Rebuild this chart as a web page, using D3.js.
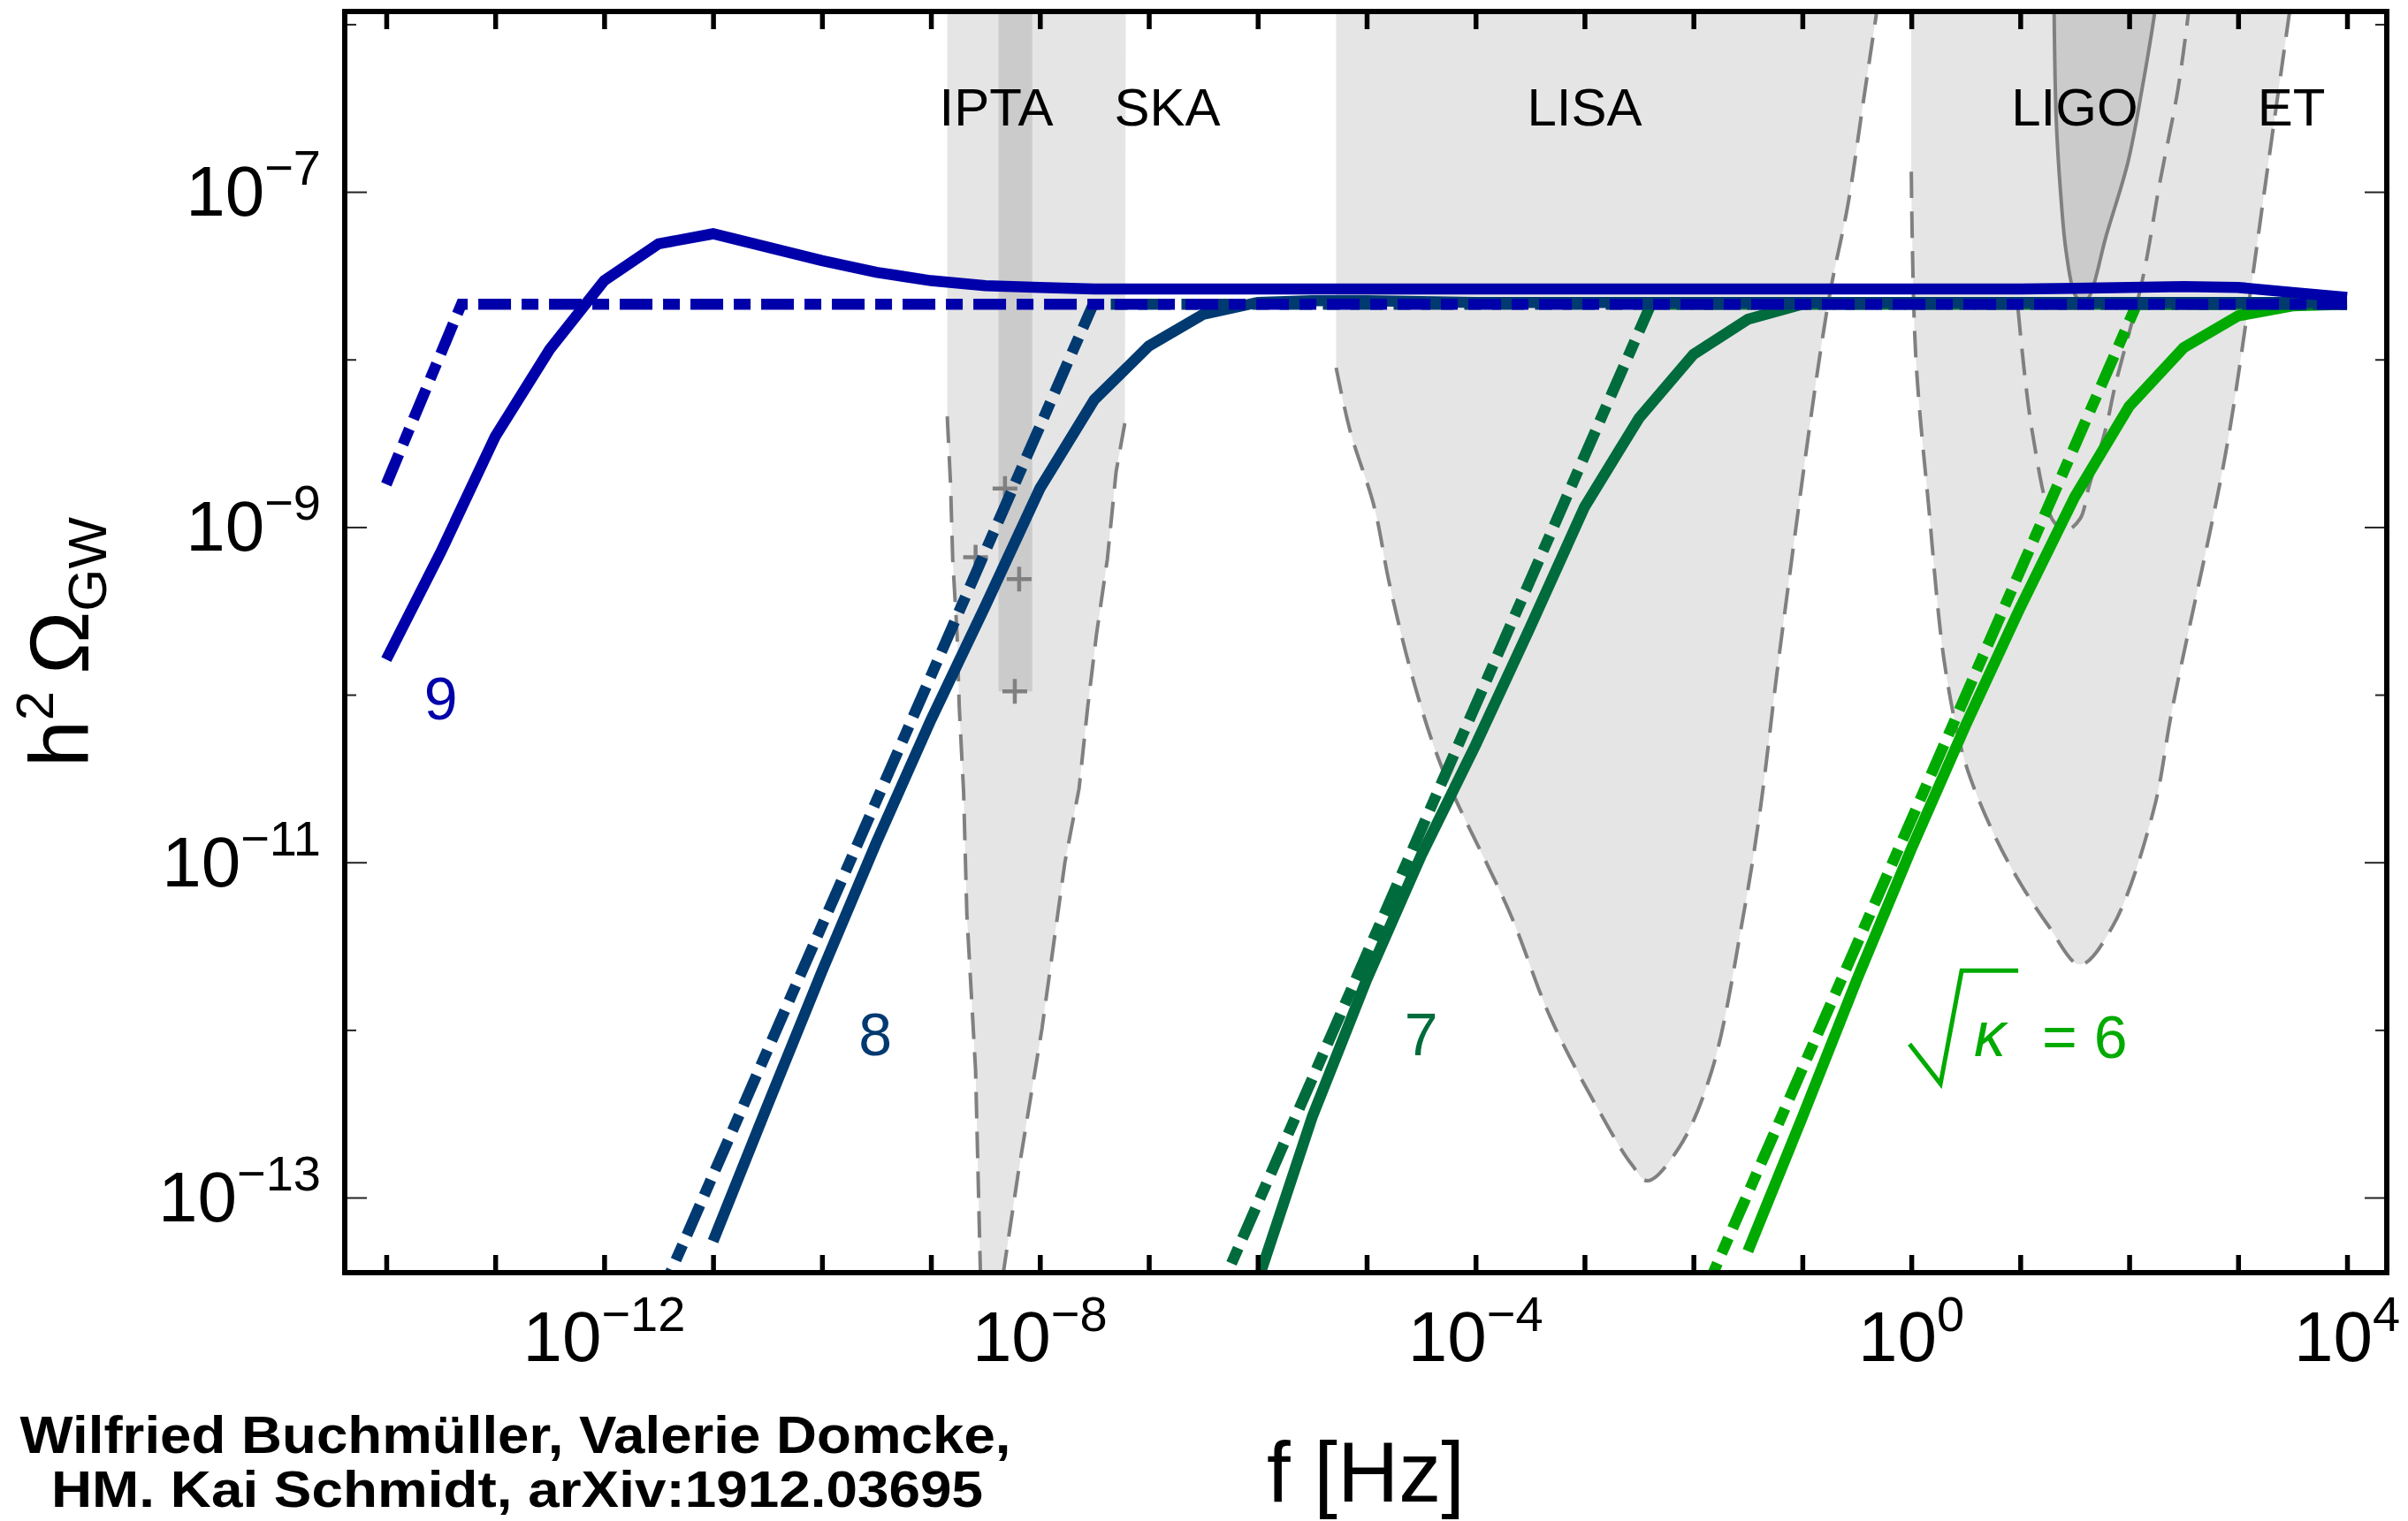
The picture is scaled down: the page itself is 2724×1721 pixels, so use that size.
<!DOCTYPE html>
<html><head><meta charset="utf-8">
<script src="https://cdn.jsdelivr.net/npm/d3@7"></script>
<style>
body{margin:0;background:#fff}
svg{display:block}
text{font-family:"Liberation Sans",Arial,Helvetica,sans-serif}
</style></head>
<body><svg id="chart" width="2724" height="1721"></svg>
<script>
// ---------- data (log10 f [Hz], log10 h^2 Omega_GW) ----------
const k9Solid = [[-14,-9.79],[-13.5,-9.15],[-13,-8.46],[-12.5,-7.94],[-12,-7.53],[-11.5,-7.31],[-11,-7.25],[-10.5,-7.33],[-10,-7.41],[-9.5,-7.48],[-9,-7.53],[-8.5,-7.56],[-8,-7.57],[-7.5,-7.58],[-7,-7.58],[-6,-7.58],[-5,-7.58],[-4,-7.58],[-3,-7.58],[-2,-7.58],[-1,-7.58],[0,-7.58],[1,-7.58],[1.5,-7.575],[2,-7.57],[2.5,-7.565],[3,-7.57],[3.5,-7.60],[4,-7.63]];
const k8Solid = [[-11,-13.26],[-10.5,-12.45],[-10,-11.65],[-9.5,-10.88],[-9,-10.15],[-8.5,-9.47],[-8,-8.77],[-7.5,-8.24],[-7,-7.92],[-6.5,-7.73],[-6,-7.66],[-5.5,-7.65],[-5,-7.65],[-4,-7.66],[-2,-7.66],[0,-7.66],[2,-7.66],[4,-7.66]];
const k7Solid = [[-6,-13.5],[-5.5,-12.52],[-5,-11.70],[-4.5,-10.96],[-4,-10.30],[-3.5,-9.60],[-3,-8.88],[-2.5,-8.35],[-2,-7.97],[-1.5,-7.76],[-1,-7.67],[-0.5,-7.66],[0,-7.66],[2,-7.66],[4,-7.66]];
const k6Solid = [[-1.5,-13.32],[-1,-12.52],[-0.5,-11.70],[0,-10.92],[0.5,-10.18],[1,-9.48],[1.5,-8.82],[2,-8.28],[2.5,-7.93],[3,-7.74],[3.5,-7.68],[4,-7.67]];
const k9Approx = [[-14,-8.745],[-13.31,-7.67],[4,-7.67]];
const k8Approx = [[-11.5,-13.61],[-7.51,-7.67],[4,-7.67]];
const k7Approx = [[-6.4,-13.63],[-2.39,-7.67],[4,-7.67]];
const k6Approx = [[-1.9,-13.57],[2.07,-7.67],[4,-7.67]];
const kappaNames = ["9","8","7","6"];
const kappaColors = ["#0000aa","#003a70","#006b3c","#00aa00"];

// detector sensitivity curves
const skaBand = [-8.85,-7.21];
const skaLeft = [[-8.85,-8.34],[-8.82,-8.74],[-8.80,-9.19],[-8.76,-9.64],[-8.74,-10.07],[-8.70,-10.58],[-8.67,-11.31],[-8.59,-12.24],[-8.54,-13.6]];
const skaRight = [[-7.22,-8.38],[-7.30,-8.67],[-7.38,-9.19],[-7.48,-9.64],[-7.56,-10.07],[-7.64,-10.56],[-7.77,-11.0],[-7.98,-11.99],[-8.20,-12.86],[-8.37,-13.6]];
const iptaBand = [-8.38,-8.07,-9.98];
const iptaPoints = [[-8.32,-8.77],[-8.59,-9.18],[-8.19,-9.31],[-8.23,-9.98]];
const lisaCurve = [[-5.28,-8.05],[-5.15,-8.43],[-4.93,-8.88],[-4.79,-9.34],[-4.56,-9.94],[-4.30,-10.45],[-3.68,-11.31],[-3.31,-11.93],[-2.86,-12.49],[-2.57,-12.80],[-2.42,-12.90],[-2.13,-12.70],[-1.83,-12.24],[-1.54,-11.31],[-1.39,-10.70],[-1.20,-9.70],[-0.77,-7.69],[-0.58,-7.07],[-0.44,-6.46],[-0.30,-5.85]];
const etCurve = [[0.00,-6.88],[0.04,-7.97],[0.16,-8.88],[0.30,-9.79],[0.45,-10.30],[0.59,-10.58],[0.89,-11.0],[1.26,-11.38],[1.55,-11.61],[1.85,-11.38],[2.22,-10.70],[2.40,-10.07],[2.88,-8.58],[3.09,-7.70],[3.26,-6.91],[3.45,-6.03],[3.50,-5.80]];
const ligoDesign = [[0.98,-7.70],[1.11,-8.43],[1.30,-8.96],[1.42,-9.02],[1.55,-8.95],[1.63,-8.76],[1.79,-8.40],[1.87,-8.16],[2.12,-7.53],[2.28,-6.95],[2.45,-6.38],[2.56,-5.85]];
const ligoO1 = [[1.31,-5.85],[1.33,-6.56],[1.37,-7.0],[1.42,-7.35],[1.50,-7.61],[1.57,-7.66],[1.63,-7.63],[1.79,-7.26],[1.99,-6.82],[2.12,-6.38],[2.23,-5.95],[2.25,-5.85]];
const detectorLabels = [["IPTA",-8.40],["SKA",-6.83],["LISA",-3.00],["LIGO",1.50],["ET",3.49]];

const xTickExps = [-14,-13,-12,-11,-10,-9,-8,-7,-6,-5,-4,-3,-2,-1,0,1,2,3,4];
const xLabelExps = ["-12","-8","-4","0","4"];
const yTickExps = [-13,-12,-11,-10,-9,-8,-7,-6];
const yLabelExps = ["-13","-11","-9","-7"];

// ---------- layout ----------
const P = {left:390, right:2700, top:13, bottom:1440};
const svg = d3.select("#chart");
const x = d3.scaleLog().domain([Math.pow(10,-14.381), Math.pow(10,4.365)]).range([P.left,P.right]);
const y = d3.scaleLog().domain([Math.pow(10,-13.448), Math.pow(10,-5.924)]).range([P.bottom,P.top]);
const X = e => x(Math.pow(10,e)), Y = e => y(Math.pow(10,e));
const TOP = -5.7;

svg.append("defs").append("clipPath").attr("id","clip")
  .append("rect").attr("x",P.left).attr("y",P.top).attr("width",P.right-P.left).attr("height",P.bottom-P.top);
const g = svg.append("g").attr("clip-path","url(#clip)");

const smooth = d3.line().x(d=>X(d[0])).y(d=>Y(d[1])).curve(d3.curveCatmullRom.alpha(0.5));
const straight = d3.line().x(d=>X(d[0])).y(d=>Y(d[1]));
const LIGHT="#e5e5e5", DARK="#cbcbcb", DGRAY="#808080";

// LISA region
g.append("path").attr("fill",LIGHT)
 .attr("d", `M${X(lisaCurve[0][0])},${Y(TOP)}` + smooth(lisaCurve).replace(/^M/,"L") + `L${X(lisaCurve[lisaCurve.length-1][0])},${Y(TOP)}Z`);
// ET region
g.append("path").attr("fill",LIGHT)
 .attr("d", `M${X(etCurve[0][0])},${Y(TOP)}` + smooth(etCurve).replace(/^M/,"L") + `L${X(etCurve[etCurve.length-1][0])},${Y(TOP)}Z`);
// SKA region
const skaPoly = [[skaBand[0],TOP]].concat(skaLeft, [[skaLeft[skaLeft.length-1][0],-14],[skaRight[skaRight.length-1][0],-14]], skaRight.slice().reverse(), [[skaBand[1],TOP]]);
g.append("path").attr("fill",LIGHT).attr("d", straight(skaPoly)+"Z");
// LIGO O1 (dark)
g.append("path").attr("fill",DARK).attr("d", smooth(ligoO1)+"Z");
// IPTA band
g.append("rect").attr("fill",DARK)
 .attr("x",X(iptaBand[0])).attr("width",X(iptaBand[1])-X(iptaBand[0]))
 .attr("y",Y(TOP)).attr("height",Y(iptaBand[2])-Y(TOP));

// dashed sensitivity curves
[skaLeft, skaRight].forEach(c=>g.append("path").attr("d",straight(c)).attr("fill","none")
   .attr("stroke",DGRAY).attr("stroke-width",4).attr("stroke-dasharray","30,15"));
[lisaCurve, etCurve, ligoDesign].forEach(c=>g.append("path").attr("d",smooth(c)).attr("fill","none")
   .attr("stroke",DGRAY).attr("stroke-width",4).attr("stroke-dasharray","30,15"));
g.append("path").attr("d",smooth(ligoO1)).attr("fill","none").attr("stroke",DGRAY).attr("stroke-width",4);

// IPTA data points
g.selectAll(".ipta").data(iptaPoints).join("path")
 .attr("transform",d=>`translate(${X(d[0])},${Y(d[1])})`)
 .attr("d","M-14,0H14M0,-14V14").attr("stroke",DGRAY).attr("stroke-width",4.5).attr("fill","none");

// spectra
const solids = [k6Solid,k7Solid,k8Solid,k9Solid];
const approx = [k6Approx,k7Approx,k8Approx,k9Approx];
const cols = [kappaColors[3],kappaColors[2],kappaColors[1],kappaColors[0]];
const LW = 12.5;
for(let i=0;i<4;i++){
  g.append("path").attr("d",straight(solids[i])).attr("fill","none").attr("stroke",cols[i]).attr("stroke-width",LW);
  g.append("path").attr("d",straight(approx[i])).attr("fill","none").attr("stroke",cols[i]).attr("stroke-width",LW)
   .attr("stroke-dasharray","37,12,19,12");
}

// ---------- axes ----------
const axB = svg.append("g").attr("transform",`translate(0,${P.bottom})`)
  .call(d3.axisBottom(x).tickValues(xTickExps.map(e=>Math.pow(10,e))).tickSize(-20).tickSizeOuter(0).tickFormat(""));
const axT = svg.append("g").attr("transform",`translate(0,${P.top})`)
  .call(d3.axisTop(x).tickValues(xTickExps.map(e=>Math.pow(10,e))).tickSize(-20).tickSizeOuter(0).tickFormat(""));
[axB,axT].forEach(a=>{a.select(".domain").remove(); a.selectAll(".tick line").attr("stroke","#000").attr("stroke-width",5.5);});
const axL = svg.append("g").attr("transform",`translate(${P.left},0)`)
  .call(d3.axisLeft(y).tickValues(yTickExps.map(e=>Math.pow(10,e))).tickSize(-25).tickSizeOuter(0).tickFormat(""));
const axR = svg.append("g").attr("transform",`translate(${P.right},0)`)
  .call(d3.axisRight(y).tickValues(yTickExps.map(e=>Math.pow(10,e))).tickSize(-25).tickSizeOuter(0).tickFormat(""));
[axL,axR].forEach((a,k)=>{a.select(".domain").remove();
  a.selectAll(".tick line").attr("stroke","#222").attr("stroke-width",2)
   .attr("x2",(d)=>{const e=Math.round(Math.log10(d)); const len=(Math.abs(e)%2===1)?25:13; return k===0?len:-len;});});

svg.append("rect").attr("x",P.left).attr("y",P.top).attr("width",P.right-P.left).attr("height",P.bottom-P.top)
  .attr("fill","none").attr("stroke","#000").attr("stroke-width",6);

// tick labels
const TF=80, SF=56;
xLabelExps.forEach(e=>{
  const t=svg.append("text").attr("x",X(+e)).attr("y",1540).attr("text-anchor","middle").attr("font-size",TF);
  t.append("tspan").text("10");
  t.append("tspan").attr("dy",-34).attr("font-size",SF).text(e.replace("-","\u2212"));
});
yLabelExps.forEach(e=>{
  const t=svg.append("text").attr("x",363).attr("y",Y(+e)+27).attr("text-anchor","end").attr("font-size",TF);
  t.append("tspan").text("10");
  t.append("tspan").attr("dy",-35).attr("font-size",SF).text(e.replace("-","\u2212"));
});

// axis titles
svg.append("text").attr("x",(P.left+P.right)/2).attr("y",1699).attr("text-anchor","middle").attr("font-size",96).text("f [Hz]");
const yl = svg.append("text").attr("transform",`translate(100,${(P.top+P.bottom)/2}) rotate(-90)`).attr("text-anchor","middle").attr("font-size",95);
yl.append("tspan").text("h");
yl.append("tspan").attr("font-size",60).attr("dy",-40).text("2");
yl.append("tspan").attr("dy",40).text("\u2009\u03A9");
yl.append("tspan").attr("font-size",62).attr("dy",20).text("GW");

// detector labels
detectorLabels.forEach(d=>svg.append("text").attr("x",X(d[1])).attr("y",142).attr("text-anchor","middle")
  .attr("font-size",60).attr("fill","#000").text(d[0]));

// kappa labels
const kLabelPos = [[-13.5,-10.02],[-9.51,-12.02],[-4.50,-12.02]];
kLabelPos.forEach((p,i)=>svg.append("text").attr("x",X(p[0])).attr("y",Y(p[1])).attr("dy","0.36em")
  .attr("text-anchor","middle").attr("font-size",68).attr("fill",kappaColors[i]).text(kappaNames[i]));
const ax0 = X(0), ay0 = Y(-12);
const kg = svg.append("g").attr("transform",`translate(${ax0},${ay0})`).attr("fill",kappaColors[3]);
kg.append("path").attr("d","M-2,16L33,61L57,-67L121,-67").attr("fill","none").attr("stroke",kappaColors[3]).attr("stroke-width",5);
kg.append("text").attr("x",71).attr("y",30).attr("font-size",72).attr("font-style","italic").text("\u03BA");
kg.append("text").attr("x",148).attr("y",32).attr("font-size",68).text("= 6");

// credit
svg.append("text").attr("x",583).attr("y",1644).attr("text-anchor","middle").attr("font-size",60).attr("font-weight","bold")
  .attr("textLength",1121).attr("lengthAdjust","spacingAndGlyphs").text("Wilfried Buchmüller, Valerie Domcke,");
svg.append("text").attr("x",585).attr("y",1705).attr("text-anchor","middle").attr("font-size",58).attr("font-weight","bold")
  .attr("textLength",1054).attr("lengthAdjust","spacingAndGlyphs").text("HM. Kai Schmidt, arXiv:1912.03695");
</script></body></html>
